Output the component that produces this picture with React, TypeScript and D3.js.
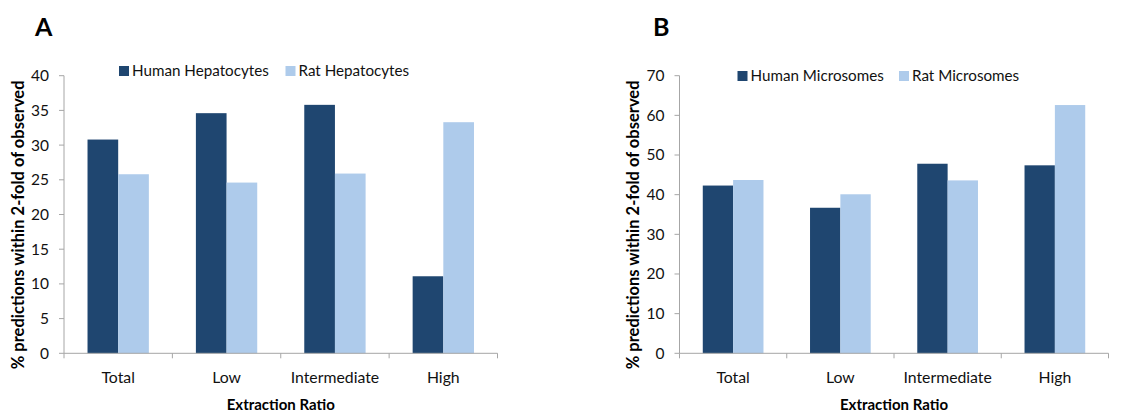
import * as d3 from 'd3'

const categories = ['Total', 'Low', 'Intermediate', 'High']

const hepSeries = ['Human Hepatocytes', 'Rat Hepatocytes']
const hepHuman = [30.8, 34.6, 35.8, 11.1]
const hepRat = [25.8, 24.6, 25.9, 33.3]
const hepTicks = [0, 5, 10, 15, 20, 25, 30, 35, 40]

const micSeries = ['Human Microsomes', 'Rat Microsomes']
const micHuman = [42.3, 36.7, 47.8, 47.4]
const micRat = [43.7, 40.1, 43.6, 62.6]
const micTicks = [0, 10, 20, 30, 40, 50, 60, 70]

const COLORS = ['#1f4670', '#aecbeb']
const AXIS = '#a6a6a6'
const FONT = 'Lato, "Open Sans", sans-serif'

type PanelProps = {
  letter: string
  letterX: number
  x0: number
  x1: number
  titleX: number
  series: string[]
  values: number[][]
  ticks: number[]
  legendX: number[]
  legendY: number
}

function Panel({ letter, letterX, x0, x1, titleX, series, values, ticks, legendX, legendY }: PanelProps) {
  const top = 75.7
  const bottom = 353.3
  const y = d3.scaleLinear().domain([0, d3.max(ticks) as number]).range([bottom, top])
  const x = d3.scaleBand().domain(categories).range([x0, x1]).padding(0)
  // two bars sit in the middle of each category band
  const inner = d3.scaleBand().domain(series).range([0, x.bandwidth()]).paddingInner(0).paddingOuter(0.767)

  return (
    <g>
      <text x={letterX} y={36} fontFamily={FONT} fontWeight={700} fontSize={25}>
        {letter}
      </text>

      {categories.map((c, i) =>
        series.map((s, j) => (
          <rect
            key={c + s}
            x={(x(c) as number) + (inner(s) as number)}
            y={y(values[j][i])}
            width={inner.bandwidth()}
            height={bottom - y(values[j][i])}
            fill={COLORS[j]}
          />
        ))
      )}

      {/* y axis */}
      <line x1={x0} x2={x0} y1={top} y2={bottom} stroke={AXIS} strokeWidth={1} />
      {ticks.map((t) => (
        <g key={t}>
          <line x1={x0 - 5} x2={x0} y1={y(t)} y2={y(t)} stroke={AXIS} />
          <text x={x0 - 15} y={y(t)} dy="0.35em" textAnchor="end" fontFamily={FONT} fontSize={15.5} fill="#111">
            {t}
          </text>
        </g>
      ))}

      {/* x axis */}
      <line x1={x0} x2={x1} y1={bottom} y2={bottom} stroke={AXIS} />
      {[...categories.map((c) => x(c) as number), x1].map((v, i) => (
        <line key={i} x1={v} x2={v} y1={bottom} y2={bottom + 5} stroke={AXIS} />
      ))}
      {categories.map((c) => (
        <text
          key={c}
          x={(x(c) as number) + x.bandwidth() / 2}
          y={383}
          textAnchor="middle"
          fontFamily={FONT}
          fontSize={15.8}
          fill="#111"
        >
          {c}
        </text>
      ))}

      <text x={(x0 + x1) / 2} y={410} textAnchor="middle" fontFamily={FONT} fontWeight={700} fontSize={15}>
        Extraction Ratio
      </text>
      <text
        transform={`translate(${titleX},${(top + 370) / 2 + 2}) rotate(-90)`}
        textAnchor="middle"
        fontFamily={FONT}
        fontWeight={700}
        fontSize={16.5}
      >
        % predictions within 2-fold of observed
      </text>

      {series.map((s, j) => (
        <g key={s}>
          <rect x={legendX[j]} y={legendY - 10} width={10} height={10} fill={COLORS[j]} />
          <text x={legendX[j] + 13} y={legendY} fontFamily={FONT} fontSize={15.2} fill="#111">
            {s}
          </text>
        </g>
      ))}
    </g>
  )
}

export default function App() {
  return (
    <svg width={1145} height={416} style={{ position: 'absolute', left: 0, top: 0, background: '#fff' }}>
      <Panel
        letter="A"
        letterX={35}
        x0={64}
        x1={497.5}
        titleX={24}
        series={hepSeries}
        values={[hepHuman, hepRat]}
        ticks={hepTicks}
        legendX={[119, 285.5]}
        legendY={76}
      />
      <Panel
        letter="B"
        letterX={653}
        x0={679.5}
        x1={1108.5}
        titleX={639}
        series={micSeries}
        values={[micHuman, micRat]}
        ticks={micTicks}
        legendX={[737.5, 899]}
        legendY={81}
      />
    </svg>
  )
}
